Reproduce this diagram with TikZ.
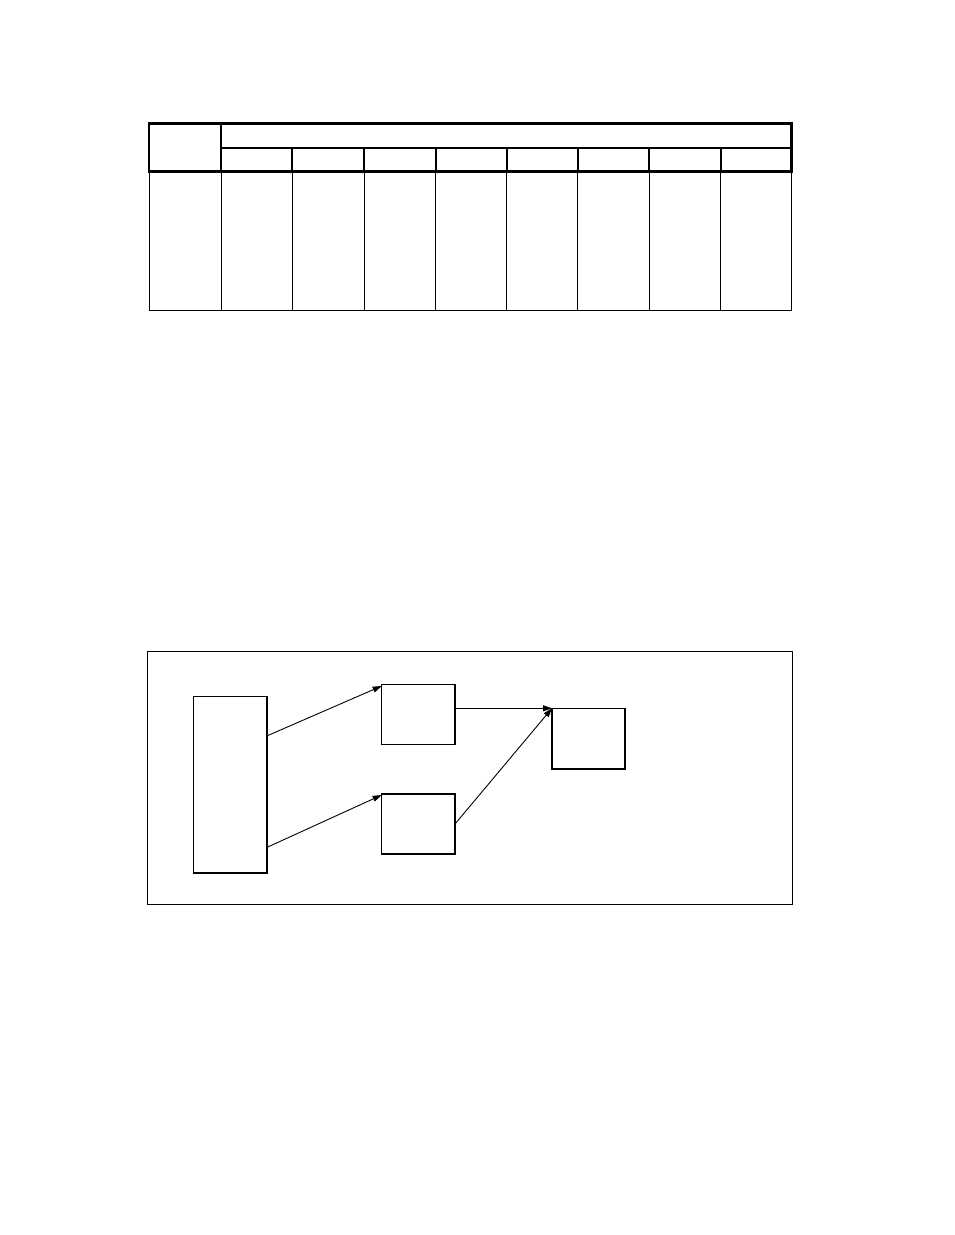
\documentclass[tikz,border=0pt]{standalone}
\usetikzlibrary{arrows.meta}
\begin{document}
\begin{tikzpicture}[x=1pt,y=-1pt,
  thickrule/.style={line width=2.8pt},
  midrule/.style={line width=2pt},
  thinrule/.style={line width=1pt},
  box/.style={draw,line width=1.5pt,rectangle,inner sep=0pt,outer sep=0pt},
  frame/.style={draw,line width=1pt,rectangle,inner sep=0pt,outer sep=0pt},
  conn/.style={line width=0.9pt,-{Triangle[length=9pt,width=6pt]}}]
\useasboundingbox (0,0) rectangle (954,1235);
% ---- table ----
\def\ytop{123.7}\def\ymid{148}\def\yhb{171.7}\def\ybot{310}
% body
\foreach \x in {149,221,292.3,364,435.7,506.5,577.8,649.3,720.5,791.5}
  \draw[thinrule] (\x,\yhb) -- (\x,\ybot);
\draw[thinrule] (148.5,\ybot) -- (791.5,\ybot);
% header
\foreach \x in {292.3,364,435.7,506.5,577.8,649.3,720.5}
  \draw[midrule] (\x,\ymid) -- (\x,\yhb);
\draw[midrule] (221,\ymid) -- (791.5,\ymid);
\draw[midrule] (221,\ytop) -- (221,\yhb);
\draw[thickrule,line cap=rect] (149,\yhb) -- (149,\ytop) -- (791.5,\ytop) -- (791.5,\yhb);
\draw[thickrule] (149,\yhb) -- (791.5,\yhb);
% ---- diagram ----
\node[frame,minimum width=644.5pt,minimum height=252.5pt] (fr) at (469.75,777.85) {};
\node[box,minimum width=73.3pt,minimum height=176.3pt] (big) at (230.35,784.85) {};
\node[box,minimum width=73.3pt,minimum height=59.6pt] (a) at (418.35,714.5) {};
\node[box,minimum width=73.3pt,minimum height=60pt] (b) at (418.35,824) {};
\node[box,minimum width=73pt,minimum height=60.7pt] (c) at (588.5,738.65) {};
\draw[conn] ([yshift=49pt]big.east) -- ([yshift=-1.3pt]a.north west);
\draw[conn] ([yshift=-62.5pt]big.east) -- ([yshift=-1pt]b.north west);
\draw[conn] ([yshift=6.2pt]a.east) -- (c.north west);
\draw[conn] (b.east) -- (c.north west);
\end{tikzpicture}
\end{document}
